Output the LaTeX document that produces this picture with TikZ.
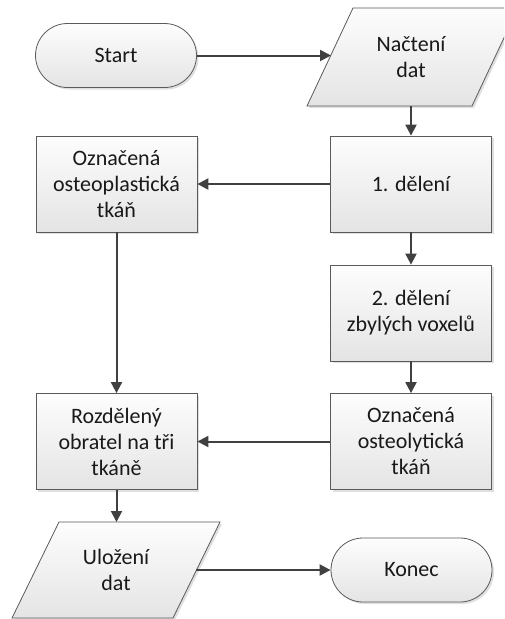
\documentclass[tikz,border=0pt]{standalone}
\usepackage{fontspec}
\setmainfont{Carlito}
\usetikzlibrary{arrows.meta,shadows}

\definecolor{edgegray}{RGB}{90,90,90}
\definecolor{linkgray}{RGB}{64,64,64}
\definecolor{filltop}{RGB}{253,253,253}
\definecolor{fillbot}{RGB}{228,228,228}
\definecolor{textgray}{RGB}{25,25,25}

\tikzset{
  shapefill/.style={draw=edgegray, line width=0.8pt, top color=filltop, bottom color=fillbot,
    drop shadow={shadow xshift=2pt, shadow yshift=-2pt, opacity=0.25, fill=gray}},
  label text/.style={text=textgray, align=center, font=\fontsize{22}{26}\selectfont},
  procbox/.style={shapefill, label text, rectangle, minimum width=161pt, minimum height=96pt, inner sep=0pt},
  termbox/.style={shapefill, label text, rectangle, rounded corners=32pt, minimum width=161pt, minimum height=64pt, inner sep=0pt},
  iotext/.style={label text, inner sep=0pt},
  link/.style={draw=linkgray, line width=2pt, -{Triangle[length=11pt,width=11pt]}},
}

\begin{document}
\begin{tikzpicture}[x=1pt,y=-1pt]
  \useasboundingbox (0,0) rectangle (504,619);
  \clip (0,0) rectangle (504,619);
  \fill[white] (0,0) rectangle (504,619);

  % terminators
  \node[termbox] (start) at (116,55.5) {Start};
  \node[termbox] (end) at (411.5,570) {Konec};

  % input parallelogram
  \path[shapefill] (307,106) -- (472,106) -- (518,8) -- (353,8) -- cycle;
  \node[iotext] (load) at (411,57) {Načtení\\dat};
  \coordinate (load-w) at (331,55.5);
  \coordinate (load-s) at (411,106);

  % output parallelogram
  \path[shapefill] (12,618) -- (173,618) -- (220,522) -- (59,522) -- cycle;
  \node[iotext] (save) at (116,570) {Uložení\\dat};
  \coordinate (save-n) at (116.5,522);
  \coordinate (save-e) at (196,570);

  % process boxes
  \node[procbox] (div1) at (411,184) {1. dělení};
  \node[procbox] (plast) at (116.5,184) {Označená\\osteoplastická\\tkáň};
  \node[procbox] (div2) at (411,313) {2. dělení\\zbylých voxelů};
  \node[procbox] (lyt) at (411,441.5) {Označená\\osteolytická\\tkáň};
  \node[procbox] (split) at (116.5,441.5) {Rozdělený\\obratel na tři\\tkáně};

  % connectors
  \draw[link] (start.east) -- (load-w);
  \draw[link] (load-s) -- (div1.north);
  \draw[link] (div1.west) -- (plast.east);
  \draw[link] (div1.south) -- (div2.north);
  \draw[link] (plast.south) -- (split.north);
  \draw[link] (div2.south) -- (lyt.north);
  \draw[link] (lyt.west) -- (split.east);
  \draw[link] (split.south) -- (save-n);
  \draw[link] (save-e) -- (end.west);
\end{tikzpicture}
\end{document}
